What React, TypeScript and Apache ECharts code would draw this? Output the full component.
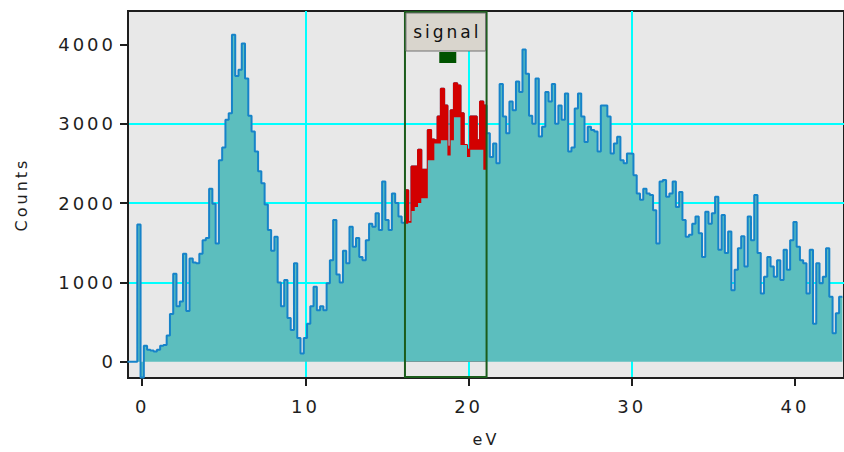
import React, { useEffect, useRef } from "react";
import * as echarts from "echarts";

// Spectrum: counts per 0.2 eV bin; bin i spans [X_START + i*BIN_WIDTH, X_START + (i+1)*BIN_WIDTH]
const X_START = -0.9;
const BIN_WIDTH = 0.2;
const counts = [
  0, 0, 0, 1730, -200, 200, 150, 140, 130, 150,
  200, 210, 330, 600, 1110, 700, 760, 1360, 640, 1300,
  1250, 1240, 1360, 1530, 1560, 2180, 1990, 1490, 2540, 2700,
  3050, 3130, 4120, 3600, 3680, 4010, 3570, 3100, 2900, 2650,
  2400, 2250, 1980, 1660, 1400, 1575, 1000, 700, 1030, 550,
  400, 1240, 300, 105, 300, 480, 700, 945, 650, 700,
  650, 990, 1280, 1785, 1100, 1000, 1400, 1240, 1700, 1450,
  1560, 1320, 1280, 1530, 1740, 1700, 1870, 1660, 2270, 1785,
  1660, 2120, 2000, 1830, 1750, 2160, 1760, 2460, 2460, 2670,
  2420, 2420, 2920, 2800, 2790, 3090, 3440, 3230, 2710, 3170,
  3510, 3480, 3130, 2730, 2670, 3090, 3090, 2790, 3280, 3230,
  2880, 2580, 2750, 2500, 3500, 3090, 2880, 3280, 3170, 3530,
  3400, 3935, 3630, 3100, 3000, 3570, 2840, 2960, 3400, 3280,
  3500, 3000, 3230, 3050, 3380, 2650, 2700, 3190, 3380, 3090,
  2770, 2960, 2920, 2900, 2650, 3230, 3230, 3090, 2625, 2750,
  2835, 2540, 2500, 2625, 2620, 2350, 2120, 2040, 2180, 2120,
  2100, 1910, 1490, 2270, 2290, 2080, 2120, 2270, 1950, 2140,
  1785, 1575, 1600, 1740, 1830, 1620, 1320, 1890, 1740, 1870,
  2080, 1410, 1850, 1370, 1640, 900, 1160, 1430, 1580, 1200,
  1830, 1530, 2100, 1370, 860, 1070, 1320, 1200, 1070, 1280,
  1030, 1410, 1160, 1530, 1760, 1450, 1280, 1240, 860, 1410,
  480, 1240, 990, 1070, 1430, 820, 360, 610, 820,
];

// Signal window (eV) and the background level under it, one value per bin
const SIGNAL_START = 16.1;
const SIGNAL_END = 21.1;
const SIGNAL_LABEL = "signal";
const background = [
  1740, 1750, 1900, 1950, 2000, 2060, 2060, 2540, 2540, 2750,
  2750, 2790, 2790, 2600, 2790, 3080, 3080, 2730, 2730, 2580,
  2670, 2670, 2670, 2670, 2420,
];

const xTicks = [0, 10, 20, 30, 40];
const yTicks = [0, 1000, 2000, 3000, 4000];
const X_MIN = -0.87;
const X_MAX = 43.0;
const Y_MIN = -205;
const Y_MAX = 4420;

const FONT = "DejaVu Sans";
const INK = "#1e1e1e";

export default function App() {
  const ref = useRef<HTMLDivElement>(null);

  useEffect(() => {
    if (!ref.current) return;
    const chart = echarts.init(ref.current, undefined, { renderer: "svg" });

    const edge = (i: number) => +(X_START + i * BIN_WIDTH).toFixed(3);
    const full: number[][] = counts.map((v, i) => [edge(i), v]);
    full.push([edge(counts.length), counts[counts.length - 1]]);

    const i0 = Math.round((SIGNAL_START - X_START) / BIN_WIDTH);
    const i1 = Math.round((SIGNAL_END - X_START) / BIN_WIDTH);
    const sig: number[][] = counts.slice(i0, i1).map((v, k) => [edge(i0 + k), v]);
    sig.push([edge(i1), counts[i1 - 1]]);
    const bg: number[][] = background.map((v, k) => [edge(i0 + k), v]);
    bg.push([edge(i0 + background.length), background[background.length - 1]]);

    const labelStyle = { fontFamily: FONT, fontSize: 18, color: INK };
    const tick = (values: number[]) => ({
      show: true,
      length: 8,
      customValues: values,
      lineStyle: { color: INK, width: 2 },
    });

    chart.setOption({
      animation: false,
      backgroundColor: "#ffffff",
      grid: {
        left: 128,
        top: 11,
        right: -4,
        bottom: 74,
        show: true,
        backgroundColor: "#e8e8e8",
        borderColor: INK,
        borderWidth: 2,
      },
      xAxis: {
        type: "value",
        min: X_MIN,
        max: X_MAX,
        name: "eV",
        nameLocation: "middle",
        nameGap: 53,
        nameTextStyle: { fontFamily: FONT, fontSize: 16, color: INK },
        axisLine: { show: true, onZero: false, lineStyle: { color: INK, width: 2 } },
        axisTick: tick(xTicks),
        axisLabel: {
          customValues: xTicks,
          margin: 19,
          formatter: (v: number) => String(v),
          ...labelStyle,
        },
        splitLine: {
          show: true,
          showMinLine: false,
          showMaxLine: false,
          lineStyle: { color: "#00ffff", width: 2 },
        },
      },
      yAxis: {
        type: "value",
        min: Y_MIN,
        max: Y_MAX,
        name: "Counts",
        nameLocation: "middle",
        nameGap: 99,
        nameTextStyle: { fontFamily: FONT, fontSize: 16, color: INK },
        axisLine: { show: true, onZero: false, lineStyle: { color: INK, width: 2 } },
        axisTick: tick(yTicks),
        axisLabel: {
          customValues: yTicks,
          margin: 12,
          formatter: (v: number) => String(v),
          ...labelStyle,
        },
        splitLine: {
          show: true,
          showMinLine: false,
          showMaxLine: false,
          lineStyle: { color: "#00ffff", width: 2 },
        },
      },
      series: [
        {
          name: "counts",
          type: "line",
          step: "end",
          data: full,
          showSymbol: false,
          symbol: "none",
          silent: true,
          lineStyle: { color: "#1683c9", width: 2 },
          areaStyle: { color: "#5cbebe", opacity: 1 },
          z: 3,
        },
        {
          name: "signal",
          type: "line",
          step: "end",
          data: sig,
          showSymbol: false,
          symbol: "none",
          silent: true,
          lineStyle: { color: "#d20000", width: 2 },
          areaStyle: { color: "#d20000", opacity: 1 },
          z: 4,
        },
        {
          name: "background",
          type: "line",
          step: "end",
          data: bg,
          showSymbol: false,
          symbol: "none",
          silent: true,
          lineStyle: { width: 0, opacity: 0 },
          areaStyle: { color: "#5cbebe", opacity: 1 },
          z: 5,
        },
      ],
    });

    const px = (x: number, y: number) =>
      chart.convertToPixel({ gridIndex: 0 }, [x, y]) as number[];

    const p0 = px(SIGNAL_START, Y_MAX);
    const p1 = px(SIGNAL_END, Y_MIN);
    const bx = p0[0];
    const bw = p1[0] - p0[0];
    const top = p0[1];
    const bottom = p1[1];
    const cx = bx + bw / 2;

    chart.setOption({
      graphic: [
        {
          type: "rect",
          z: 100,
          silent: true,
          shape: { x: bx, y: top + 1, width: bw, height: bottom - top - 2 },
          style: { fill: "none", stroke: "#1b5c1b", lineWidth: 2 },
        },
        {
          type: "rect",
          z: 101,
          silent: true,
          shape: { x: bx + 1, y: top + 2, width: bw - 2, height: 38 },
          style: { fill: "#d9d5cd", stroke: "#707070", lineWidth: 1 },
        },
        {
          type: "text",
          z: 102,
          silent: true,
          x: cx + 1.5,
          y: top + 21,
          style: {
            text: SIGNAL_LABEL,
            fill: "#111111",
            font: `17px "${FONT}"`,
            align: "center",
            verticalAlign: "middle",
          },
        },
        {
          type: "rect",
          z: 102,
          silent: true,
          shape: { x: cx + 2 - 8.5, y: top + 41, width: 17, height: 11 },
          style: { fill: "#005300" },
        },
      ],
    });

    return () => chart.dispose();
  }, []);

  return (
    <>
      <style>{`.spec-host text { letter-spacing: 3px; }`}</style>
      <div
        ref={ref}
        className="spec-host"
        style={{ position: "absolute", left: 0, top: 0, width: 844, height: 452 }}
      />
    </>
  );
}
